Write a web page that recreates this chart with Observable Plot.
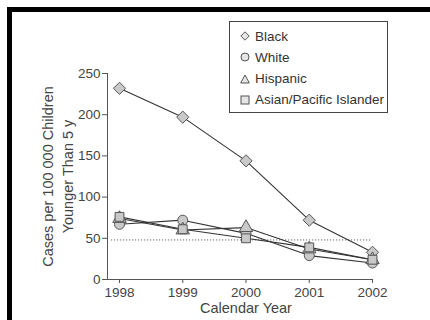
<!DOCTYPE html>
<html><head><meta charset="utf-8">
<script src="https://cdn.jsdelivr.net/npm/d3@7"></script>
<script src="https://cdn.jsdelivr.net/npm/@observablehq/plot@0.6"></script>
<style>
html,body{margin:0;padding:0;background:#fff;font-family:"Liberation Sans",Arial,sans-serif;overflow:hidden;}
#wrap{position:relative;width:430px;height:320px;overflow:hidden;}
#btop{position:absolute;left:7px;top:7px;width:423px;height:5px;background:#000;}
#bleft{position:absolute;left:7px;top:7px;width:5px;height:313px;background:#000;}
#legend{position:absolute;left:229px;top:21px;width:159px;height:92px;border:1px solid #444;box-sizing:border-box;background:#fff;font-size:13.5px;color:#333;}
.item{position:absolute;left:10px;height:16px;display:flex;align-items:center;}
.item svg{margin-right:5px;}
#chart{position:absolute;left:0;top:0;}
</style></head>
<body>
<div id="wrap"><div id="btop"></div><div id="bleft"></div><div id="chart"></div><div id="legend"></div></div>
<script>
const years = [1998, 1999, 2000, 2001, 2002];
const groups = ["Black", "White", "Hispanic", "Asian/Pacific Islander"];
const symbols = ["diamond2", "circle", "triangle", "square"];
const black = [232, 197, 144, 72, 33];
const white = [67, 72, 56, 29, 20];
const hispanic = [74, 60, 63, 37, 24];
const asian = [76, 61, 50, 39, 24];
const target = 48;
const yTicks = [0, 50, 100, 150, 200, 250];
const yLabel = "Cases per 100 000 Children\nYounger Than 5 y";
const xLabel = "Calendar Year";

const series = [black, white, hispanic, asian];
const data = [];
series.forEach((vals, i) => vals.forEach((v, j) => data.push({group: groups[i], year: years[j], value: v, sym: symbols[i]})));
const symR = {diamond2: 5.5, circle: 5, triangle: 5, square: 5};

const font = '"Liberation Sans", Arial, sans-serif';
const chart = Plot.plot({
  width: 430, height: 320,
  marginLeft: 107, marginRight: 58, marginTop: 73, marginBottom: 41,
  style: {fontFamily: font, fontSize: "13px", color: "#444", background: "transparent"},
  x: {domain: [years[0], years[years.length - 1]], insetLeft: 12},
  y: {domain: [0, 250]},
  symbol: {domain: symbols, range: symbols},
  marks: [
    Plot.ruleY([target], {stroke: "#666", strokeDasharray: "1.2,1.8", insetLeft: 4}),
    Plot.axisY({ticks: yTicks, tickSize: 5, tickPadding: 2, label: null, stroke: "#555", fontSize: 13.5}),
    Plot.axisX({ticks: years, tickFormat: "d", tickSize: 4, tickPadding: 4, label: null, stroke: "#555", fontSize: 13.5}),
    Plot.frame({anchor: "left", stroke: "#555"}),
    Plot.frame({anchor: "bottom", stroke: "#555"}),
    Plot.line(data, {x: "year", y: "value", z: "group", stroke: "#333", strokeWidth: 1.1}),
    ...symbols.map(s => Plot.dot(data.filter(d => d.sym === s), {x: "year", y: "value", symbol: "sym", r: symR[s], fill: "#c9c9c9", stroke: "#555", strokeWidth: 1})),
    Plot.text([yLabel], {frameAnchor: "left", rotate: -90, dx: -51, lineHeight: 1.4, textAnchor: "middle", lineAnchor: "middle", fill: "#444", fontSize: 14.5}),
    Plot.text([xLabel], {x: [d3.mean(years)], frameAnchor: "bottom", dy: 33, fill: "#444", fontSize: 14.5})
  ]
});
document.getElementById("chart").appendChild(chart);

const legend = document.getElementById("legend");
const shapes = {
  diamond2: '<path d="M5 0.8 L9.2 5 L5 9.2 L0.8 5 Z"/>',
  circle: '<circle cx="5" cy="5" r="4"/>',
  triangle: '<path d="M5 1 L9.3 9 L0.7 9 Z"/>',
  square: '<rect x="1" y="1" width="8" height="8"/>'
};
groups.forEach((g, i) => {
  const div = document.createElement("div");
  div.className = "item";
  div.style.top = (6 + i * 21.3) + "px";
  div.innerHTML = '<svg width="10" height="10" fill="#e6e6e6" stroke="#555" stroke-width="1">' + shapes[symbols[i]] + '</svg><span>' + g + '</span>';
  legend.appendChild(div);
});
</script>
</body></html>
